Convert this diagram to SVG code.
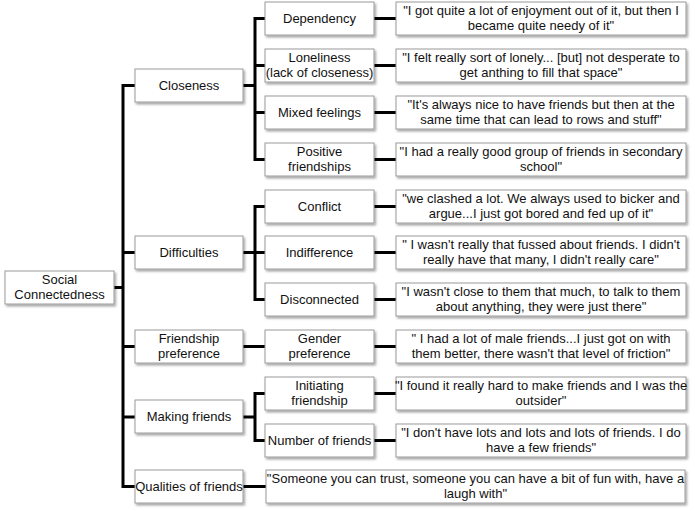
<svg xmlns="http://www.w3.org/2000/svg" width="695" height="511" viewBox="0 0 695 511">
<defs>
<filter id="sh" x="-10%" y="-20%" width="120%" height="150%">
<feDropShadow dx="1.5" dy="2" stdDeviation="1" flood-color="#000" flood-opacity="0.35"/>
</filter>
<style>
.b{fill:#fff;stroke:#9a9a9a;stroke-width:1;filter:url(#sh)}
.t{font-family:"Liberation Sans",Arial,sans-serif;font-size:13px;fill:#111;text-anchor:middle}
.c{fill:none;stroke:#000;stroke-width:3;stroke-linejoin:miter}
</style>
</defs>
<rect width="695" height="511" fill="#fff"/>
<g id="connectors">
<path class="c" d="M114,287.5H123"/>
<path class="c" d="M135,85.5H123V486.5H135"/>
<path class="c" d="M123,252.5H135M123,346.5H135M123,417H135"/>
<path class="c" d="M243,85.5H255"/>
<path class="c" d="M265,18.5H255V159.5H265M255,65.5H265M255,112.5H265"/>
<path class="c" d="M243,252.5H255"/>
<path class="c" d="M265,206.5H255V299.5H265M255,252.5H265"/>
<path class="c" d="M243,346.5H265"/>
<path class="c" d="M243,417H255"/>
<path class="c" d="M265,393.5H255V440.5H265"/>
<path class="c" d="M243,486.5H266"/>
<path class="c" d="M374,18.5H396M374,65.5H396M374,112.5H396M374,159.5H396M374,206.5H396M374,252.5H396M374,299.5H396M374,346.5H396M374,393.5H396M374,440.5H396"/>
</g>
<g id="root"><rect class="b" x="5" y="271" width="109" height="33"/><text class="t" x="59.5" y="284">Social</text><text class="t" x="59.5" y="299">Connectedness</text></g>
<g id="closeness"><rect class="b" x="135" y="69" width="108" height="33"/><text class="t" x="189" y="90">Closeness</text></g>
<g id="difficulties"><rect class="b" x="135" y="236" width="108" height="33"/><text class="t" x="189" y="257">Difficulties</text></g>
<g id="friendship-preference"><rect class="b" x="135" y="330" width="108" height="33"/><text class="t" x="189" y="343">Friendship</text><text class="t" x="189" y="358">preference</text></g>
<g id="making-friends"><rect class="b" x="135" y="400" width="108" height="33"/><text class="t" x="189" y="421">Making friends</text></g>
<g id="qualities"><rect class="b" x="135" y="470" width="108" height="33"/><text class="t" x="189" y="491">Qualities of friends</text></g>
<g id="dependency"><rect class="b" x="265" y="2" width="109" height="33"/><text class="t" x="319.5" y="23">Dependency</text></g>
<g id="loneliness"><rect class="b" x="265" y="49" width="109" height="33"/><text class="t" x="319.5" y="62">Loneliness</text><text class="t" x="319.5" y="77">(lack of closeness)</text></g>
<g id="mixed-feelings"><rect class="b" x="265" y="96" width="109" height="33"/><text class="t" x="319.5" y="117">Mixed feelings</text></g>
<g id="positive-friendships"><rect class="b" x="265" y="143" width="109" height="33"/><text class="t" x="319.5" y="156">Positive</text><text class="t" x="319.5" y="171">friendships</text></g>
<g id="conflict"><rect class="b" x="265" y="190" width="109" height="33"/><text class="t" x="319.5" y="211">Conflict</text></g>
<g id="indifference"><rect class="b" x="265" y="236" width="109" height="33"/><text class="t" x="319.5" y="257">Indifference</text></g>
<g id="disconnected"><rect class="b" x="265" y="283" width="109" height="33"/><text class="t" x="319.5" y="304">Disconnected</text></g>
<g id="gender-preference"><rect class="b" x="265" y="330" width="109" height="33"/><text class="t" x="319.5" y="343">Gender</text><text class="t" x="319.5" y="358">preference</text></g>
<g id="initiating-friendship"><rect class="b" x="265" y="377" width="109" height="33"/><text class="t" x="319.5" y="390">Initiating</text><text class="t" x="319.5" y="405">friendship</text></g>
<g id="number-of-friends"><rect class="b" x="265" y="424" width="109" height="33"/><text class="t" x="319.5" y="445">Number of friends</text></g>
<g id="q-dependency"><rect class="b" x="396" y="2" width="290" height="33"/><text class="t" x="541" y="15">"I got quite a lot of enjoyment out of it, but then I</text><text class="t" x="541" y="30">became quite needy of it"</text></g>
<g id="q-loneliness"><rect class="b" x="396" y="49" width="290" height="33"/><text class="t" x="541" y="62">"I felt really sort of lonely... [but] not desperate to</text><text class="t" x="541" y="77">get anthing to fill that space"</text></g>
<g id="q-mixed"><rect class="b" x="396" y="96" width="290" height="33"/><text class="t" x="541" y="109">"It's always nice to have friends but then at the</text><text class="t" x="541" y="124">same time that can lead to rows and stuff"</text></g>
<g id="q-positive"><rect class="b" x="396" y="143" width="290" height="33"/><text class="t" x="541" y="156">"I had a really good group of friends in secondary</text><text class="t" x="541" y="171">school"</text></g>
<g id="q-conflict"><rect class="b" x="396" y="190" width="290" height="33"/><text class="t" x="541" y="203">"we clashed a lot. We always used to bicker and</text><text class="t" x="541" y="218">argue...I just got bored and fed up of it"</text></g>
<g id="q-indifference"><rect class="b" x="396" y="236" width="290" height="33"/><text class="t" x="541" y="249">" I wasn't really that fussed about friends. I didn't</text><text class="t" x="541" y="264">really have that many, I didn't really care"</text></g>
<g id="q-disconnected"><rect class="b" x="396" y="283" width="290" height="33"/><text class="t" x="541" y="296">"I wasn't close to them that much, to talk to them</text><text class="t" x="541" y="311">about anything, they were just there"</text></g>
<g id="q-gender"><rect class="b" x="396" y="330" width="290" height="33"/><text class="t" x="541" y="343">" I had a lot of male friends...I just got on with</text><text class="t" x="541" y="358">them better, there wasn't that level of friction"</text></g>
<g id="q-initiating"><rect class="b" x="396" y="377" width="290" height="33"/><text class="t" x="541" y="390">"I found it really hard to make friends and I was the</text><text class="t" x="541" y="405">outsider"</text></g>
<g id="q-number"><rect class="b" x="396" y="424" width="290" height="33"/><text class="t" x="541" y="437">"I don't have lots and lots and lots of friends. I do</text><text class="t" x="541" y="452">have a few friends"</text></g>
<g id="q-qualities"><rect class="b" x="266" y="470" width="419" height="33"/><text class="t" x="475.5" y="483">"Someone you can trust, someone you can have a bit of fun with, have a</text><text class="t" x="475.5" y="498">laugh with"</text></g>
</svg>
